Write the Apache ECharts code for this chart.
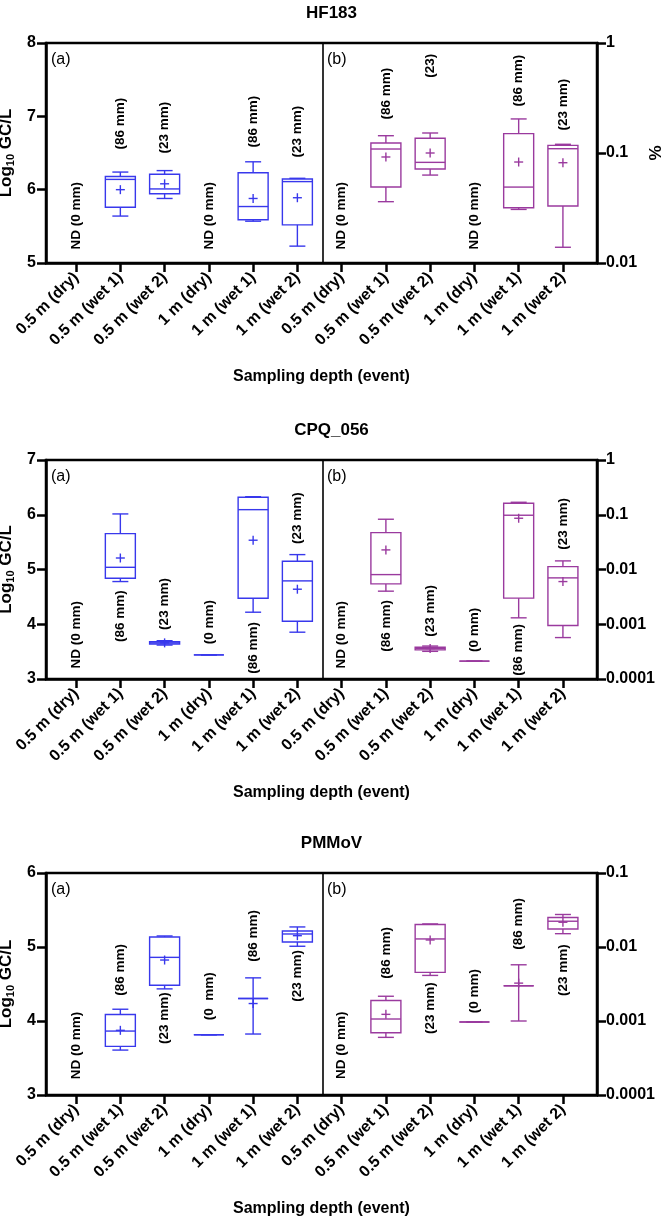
<!DOCTYPE html>
<html>
<head>
<meta charset="utf-8">
<script src="https://cdn.jsdelivr.net/npm/echarts@6/dist/echarts.min.js"></script>
<style>
html,body{margin:0;padding:0;background:#fff;}
#chart{width:663px;height:1220px;}
</style>
</head>
<body>
<div id="chart"></div>
<script>
// ---------------- DATA ----------------
const categories = ['0.5 m (dry)', '0.5 m (wet 1)', '0.5 m (wet 2)', '1 m (dry)', '1 m (wet 1)', '1 m (wet 2)'];
const xLabels = categories.concat(categories); // panel (a) then panel (b)
const titles = ['HF183', 'CPQ_056', 'PMMoV'];
const xTitle = 'Sampling depth (event)';
const rightTitle = '%';

// box stats: [min, q1, median, q3, max]; null = not detected
const hf183Gc = [null, [5.64, 5.76, 6.14, 6.18, 6.24], [5.88, 5.945, 6.01, 6.21, 6.26], null, [5.57, 5.59, 5.77, 6.23, 6.38], [5.23, 5.52, 6.11, 6.145, 6.155]];
const hf183GcMean = [null, 6.00, 6.08, null, 5.88, 5.89];
const hf183Pct = [null, [0.0361, 0.0491, 0.1087, 0.1233, 0.1436], [0.063, 0.0716, 0.0822, 0.136, 0.152], null, [0.0307, 0.0318, 0.049, 0.150, 0.204], [0.0139, 0.033, 0.1094, 0.1174, 0.120]];
const hf183PctMean = [null, 0.092, 0.100, null, 0.0828, 0.0816];

const cpqGc = [null, [4.78, 4.84, 5.04, 5.655, 6.015], [3.62, 3.64, 3.66, 3.68, 3.70], [3.44, 3.44, 3.44, 3.44, 3.44], [4.22, 4.476, 6.093, 6.32, 6.33], [3.855, 4.056, 4.792, 5.15, 5.272]];
const cpqGcMean = [null, 5.21, 3.66, null, 5.535, 4.64];
const cpqPct = [null, [0.00402, 0.00546, 0.00807, 0.0472, 0.0828], [0.00032, 0.00034, 0.00036, 0.00038, 0.0004], [0.000212, 0.000212, 0.000212, 0.000212, 0.000212], [0.00131, 0.0030, 0.098, 0.162, 0.169], [0.000571, 0.000946, 0.00703, 0.0113, 0.01436]];
const cpqPctMean = [null, 0.0228, 0.00036, null, 0.0863, 0.00602];

const pmmovGc = [null, [3.607, 3.657, 3.864, 4.087, 4.159], [4.434, 4.484, 4.86, 5.136, 5.149], [3.815, 3.815, 3.815, 3.815, 3.815], [3.824, 4.304, 4.304, 4.304, 4.583], [5.01, 5.068, 5.176, 5.217, 5.271]];
const pmmovGcMean = [null, 3.874, 4.824, null, 4.236, 5.153];
const pmmovPct = [null, [0.000601, 0.000695, 0.001064, 0.00189, 0.00216], [0.00413, 0.00454, 0.01285, 0.0201, 0.0205], [0.00097, 0.00097, 0.00097, 0.00097, 0.00097], [0.001, 0.00299, 0.00299, 0.00299, 0.00575], [0.01514, 0.01754, 0.0223, 0.025, 0.0275]];
const pmmovPctMean = [null, 0.00123, 0.01244, null, 0.00325, 0.0216];

// rainfall annotations (text, vertical position in panel units)
const hf183GcNoteText = ['ND (0 mm)', '(86 mm)', '(23 mm)', 'ND (0 mm)', '(86 mm)', '(23 mm)'];
const hf183GcNoteY = [5.645, 6.90, 6.845, 5.645, 6.927, 6.79];
const hf183PctNoteText = ['ND (0 mm)', '(86 mm)', '(23)', 'ND (0 mm)', '(86 mm)', '(23 mm)'];
const hf183PctNoteY = [0.0269, 0.346, 0.622, 0.0269, 0.454, 0.275];

const cpqGcNoteText = ['ND (0 mm)', '(86 mm)', '(23 mm)', '(0 mm)', '(86 mm)', '(23 mm)'];
const cpqGcNoteY = [3.81, 4.15, 4.37, 4.04, 3.57, 5.94];
const cpqPctNoteText = ['ND (0 mm)', '(86 mm)', '(23 mm)', '(0 mm)', '(86 mm)', '(23 mm)'];
const cpqPctNoteY = [0.00064, 0.00093, 0.00176, 0.00079, 0.00034, 0.068];

const pmmovGcNoteText = ['ND (0 mm)', '(86 mm)', '(23 mm)', '(0  mm)', '(86 mm)', '(23 mm)'];
const pmmovGcNoteY = [3.67, 4.69, 4.04, 4.335, 5.15, 4.61];
const pmmovPctNoteText = ['ND (0 mm)', '(86 mm)', '(23 mm)', '(0 mm)', '(86 mm)', '(23 mm)'];
const pmmovPctNoteY = [0.00047, 0.0083, 0.00149, 0.00253, 0.0205, 0.00488];

// axis ranges
const leftRanges = [[5, 8], [3, 7], [3, 6]];
const rightRanges = [[0.01, 1], [0.0001, 1], [0.0001, 0.1]];

// ---------------- STYLE / LAYOUT ----------------
const BLUE = '#3838ec';
const PURPLE = '#9a3a9e';
const FONT = '"Liberation Sans", Arial, Helvetica, sans-serif';
const gridTops = [43, 460, 873];
const gridHeights = [220, 219, 222];
const GRID_LEFT = 46, GRID_RIGHT = 66;
const X_MIN = 0.32, X_MAX = 12.77, DIVIDER = 6.57;

const panels = [
  {gc: hf183Gc, gcMean: hf183GcMean, pct: hf183Pct, pctMean: hf183PctMean,
   gcNote: [hf183GcNoteText, hf183GcNoteY], pctNote: [hf183PctNoteText, hf183PctNoteY]},
  {gc: cpqGc, gcMean: cpqGcMean, pct: cpqPct, pctMean: cpqPctMean,
   gcNote: [cpqGcNoteText, cpqGcNoteY], pctNote: [cpqPctNoteText, cpqPctNoteY]},
  {gc: pmmovGc, gcMean: pmmovGcMean, pct: pmmovPct, pctMean: pmmovPctMean,
   gcNote: [pmmovGcNoteText, pmmovGcNoteY], pctNote: [pmmovPctNoteText, pmmovPctNoteY]}
];

function boxData(stats, means, offset) {
  const out = [];
  stats.forEach((s, i) => {
    if (!s) return;
    out.push([i + 1 + offset, s[0], s[1], s[2], s[3], s[4], means[i] == null ? NaN : means[i]]);
  });
  return out;
}
function noteData(note, offset) {
  return note[0].map((t, i) => [i + 1 + offset, note[1][i]]);
}

function boxRender(color) {
  return function (params, api) {
    const x = api.value(0);
    const v = [1, 2, 3, 4, 5, 6].map(k => api.value(k));
    const p = v.map(val => api.coord([x, val]));
    const cx = p[0][0];
    const hb = 15, hc = 8, hm = 4.5;
    const st = {stroke: color, lineWidth: 1.4, fill: null};
    const line = (x1, y1, x2, y2) => ({type: 'line', shape: {x1, y1, x2, y2}, style: st});
    const yMin = p[0][1], yQ1 = p[1][1], yMed = p[2][1], yQ3 = p[3][1], yMax = p[4][1];
    const ch = [
      line(cx, yMax, cx, yQ3),
      line(cx, yQ1, cx, yMin),
      line(cx - hc, yMax, cx + hc, yMax),
      line(cx - hc, yMin, cx + hc, yMin),
      {type: 'rect', shape: {x: cx - hb, y: yQ3, width: hb * 2, height: yQ1 - yQ3}, style: {stroke: color, lineWidth: 1.4, fill: null}},
      line(cx - hb, yMed, cx + hb, yMed)
    ];
    if (!isNaN(v[5])) {
      const ym = p[5][1];
      ch.push(line(cx - hm, ym, cx + hm, ym));
      ch.push(line(cx, ym - hm, cx, ym + hm));
    }
    return {type: 'group', children: ch};
  };
}
function makeNoteRender(texts) {
  return function (params, api) {
    const p = api.coord([api.value(0), api.value(1)]);
    return {type: 'text', x: p[0], y: p[1], rotation: Math.PI / 2,
      style: {text: texts[params.dataIndex], font: 'bold 13.5px ' + FONT, fill: '#000', align: 'center', verticalAlign: 'middle'}};
  };
}

const option = {
  animation: false,
  backgroundColor: '#fff',
  title: [], grid: [], xAxis: [], yAxis: [], series: [], graphic: []
};

panels.forEach((pn, k) => {
  const top = gridTops[k];
  option.title.push({text: titles[k], left: 'center', top: top - 43,
    textStyle: {fontFamily: FONT, fontWeight: 'bold', fontSize: 17, color: '#000'}});
  option.grid.push({left: GRID_LEFT, right: GRID_RIGHT, top: top, height: gridHeights[k],
    containLabel: false, outerBoundsMode: 'none',
    show: true, borderColor: '#000', borderWidth: 2.5, backgroundColor: 'transparent'});
  option.xAxis.push({type: 'value', gridIndex: k, min: X_MIN, max: X_MAX,
    name: xTitle, nameLocation: 'middle', nameGap: 106,
    nameTextStyle: {fontFamily: FONT, fontWeight: 'bold', fontSize: 16, color: '#000'},
    axisLine: {show: true, lineStyle: {color: '#000', width: 2.5}},
    axisTick: {show: true, length: 9, lineStyle: {color: '#000', width: 2.5}, customValues: xLabels.map((_, i) => i + 1)},
    axisLabel: {show: true, customValues: xLabels.map((_, i) => i + 1), rotate: 45, margin: 12,
      formatter: v => xLabels[Math.round(v) - 1] || '',
      fontFamily: FONT, fontWeight: 'bold', fontSize: 16, color: '#000'},
    splitLine: {show: false}});
  const ly = leftRanges[k], ry = rightRanges[k];
  option.yAxis.push({type: 'value', gridIndex: k, min: ly[0], max: ly[1], interval: 1, position: 'left',
    name: '{a|Log}{s|10}{a| GC/L}', nameLocation: 'middle', nameGap: 27, nameRotate: 90,
    nameTextStyle: {rich: {a: {fontFamily: FONT, fontWeight: 'bold', fontSize: 17, color: '#000'},
      s: {fontFamily: FONT, fontWeight: 'bold', fontSize: 11, color: '#000', verticalAlign: 'bottom', padding: [8, 0, 0, 0]}}},
    axisLine: {show: true, lineStyle: {color: '#000', width: 2.5}},
    axisTick: {show: true, length: 9, lineStyle: {color: '#000', width: 2.5}},
    axisLabel: {margin: 10, fontFamily: FONT, fontWeight: 'bold', fontSize: 16, color: '#000'},
    splitLine: {show: false}});
  option.yAxis.push({type: 'log', logBase: 10, gridIndex: k, min: ry[0], max: ry[1], position: 'right',
    name: rightTitle, nameLocation: 'middle', nameGap: 38, nameRotate: 90,
    nameTextStyle: {fontFamily: FONT, fontWeight: 'bold', fontSize: 17, color: '#000'},
    axisLine: {show: true, lineStyle: {color: '#000', width: 2.5}},
    axisTick: {show: true, length: 9, lineStyle: {color: '#000', width: 2.5}},
    minorTick: {show: false},
    axisLabel: {margin: 9, fontFamily: FONT, fontWeight: 'bold', fontSize: 16, color: '#000',
      formatter: v => String(+(+v).toPrecision(1))},
    splitLine: {show: false}});
  const yl = k * 2, yr = k * 2 + 1;
  option.series.push({type: 'custom', xAxisIndex: k, yAxisIndex: yl, clip: false,
    renderItem: boxRender(BLUE), data: boxData(pn.gc, pn.gcMean, 0),
    markLine: {silent: true, symbol: 'none', label: {show: false},
      lineStyle: {color: '#000', width: 1.6, type: 'solid'}, data: [{xAxis: DIVIDER}]}});
  option.series.push({type: 'custom', xAxisIndex: k, yAxisIndex: yr, clip: false,
    renderItem: boxRender(PURPLE), data: boxData(pn.pct, pn.pctMean, 6)});
  option.series.push({type: 'custom', xAxisIndex: k, yAxisIndex: yl,
    renderItem: makeNoteRender(pn.gcNote[0]), data: noteData(pn.gcNote, 0)});
  option.series.push({type: 'custom', xAxisIndex: k, yAxisIndex: yr,
    renderItem: makeNoteRender(pn.pctNote[0]), data: noteData(pn.pctNote, 6)});
  option.graphic.push({type: 'text', left: GRID_LEFT + 5, top: top + 9,
    style: {text: '(a)', font: '16px ' + FONT, fill: '#000'}});
  option.graphic.push({type: 'text', left: 327, top: top + 9,
    style: {text: '(b)', font: '16px ' + FONT, fill: '#000'}});
});

const chart = echarts.init(document.getElementById('chart'), null, {renderer: 'canvas'});
chart.setOption(option);
</script>
</body>
</html>
